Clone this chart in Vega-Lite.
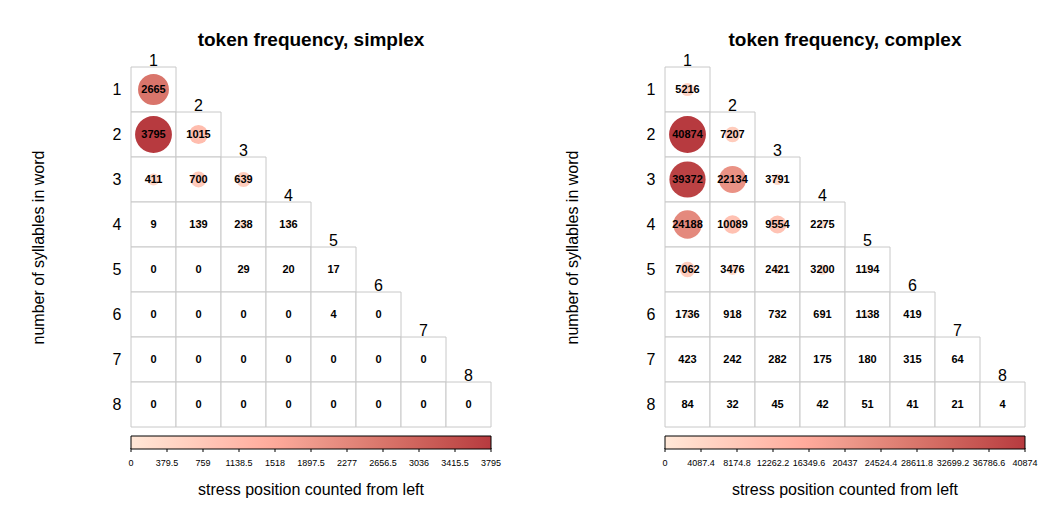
{
  "$schema": "https://vega.github.io/schema/vega-lite/v6.json",
  "padding": {"left": 30, "top": 31, "right": 10, "bottom": 5},
  "config": {
    "font": "Liberation Sans",
    "view": {"stroke": null},
    "axisY": {"labelColor": "black", "titleColor": "black", "titleFontSize": 16, "titleFontWeight": "normal", "titlePadding": 66, "labelFontSize": 16, "labelPadding": 10, "ticks": false, "domain": false, "grid": false, "labelAngle": 0},
    "legend": {"labelColor": "black", "titleColor": "black"}
  },
  "datasets": {
    "simplex": [
      {"r": 1, "c": 1, "v": 2665},
      {"r": 2, "c": 1, "v": 3795}, {"r": 2, "c": 2, "v": 1015},
      {"r": 3, "c": 1, "v": 411}, {"r": 3, "c": 2, "v": 700}, {"r": 3, "c": 3, "v": 639},
      {"r": 4, "c": 1, "v": 9}, {"r": 4, "c": 2, "v": 139}, {"r": 4, "c": 3, "v": 238}, {"r": 4, "c": 4, "v": 136},
      {"r": 5, "c": 1, "v": 0}, {"r": 5, "c": 2, "v": 0}, {"r": 5, "c": 3, "v": 29}, {"r": 5, "c": 4, "v": 20}, {"r": 5, "c": 5, "v": 17},
      {"r": 6, "c": 1, "v": 0}, {"r": 6, "c": 2, "v": 0}, {"r": 6, "c": 3, "v": 0}, {"r": 6, "c": 4, "v": 0}, {"r": 6, "c": 5, "v": 4}, {"r": 6, "c": 6, "v": 0},
      {"r": 7, "c": 1, "v": 0}, {"r": 7, "c": 2, "v": 0}, {"r": 7, "c": 3, "v": 0}, {"r": 7, "c": 4, "v": 0}, {"r": 7, "c": 5, "v": 0}, {"r": 7, "c": 6, "v": 0}, {"r": 7, "c": 7, "v": 0},
      {"r": 8, "c": 1, "v": 0}, {"r": 8, "c": 2, "v": 0}, {"r": 8, "c": 3, "v": 0}, {"r": 8, "c": 4, "v": 0}, {"r": 8, "c": 5, "v": 0}, {"r": 8, "c": 6, "v": 0}, {"r": 8, "c": 7, "v": 0}, {"r": 8, "c": 8, "v": 0}
    ],
    "complex": [
      {"r": 1, "c": 1, "v": 5216},
      {"r": 2, "c": 1, "v": 40874}, {"r": 2, "c": 2, "v": 7207},
      {"r": 3, "c": 1, "v": 39372}, {"r": 3, "c": 2, "v": 22134}, {"r": 3, "c": 3, "v": 3791},
      {"r": 4, "c": 1, "v": 24188}, {"r": 4, "c": 2, "v": 10089}, {"r": 4, "c": 3, "v": 9554}, {"r": 4, "c": 4, "v": 2275},
      {"r": 5, "c": 1, "v": 7062}, {"r": 5, "c": 2, "v": 3476}, {"r": 5, "c": 3, "v": 2421}, {"r": 5, "c": 4, "v": 3200}, {"r": 5, "c": 5, "v": 1194},
      {"r": 6, "c": 1, "v": 1736}, {"r": 6, "c": 2, "v": 918}, {"r": 6, "c": 3, "v": 732}, {"r": 6, "c": 4, "v": 691}, {"r": 6, "c": 5, "v": 1138}, {"r": 6, "c": 6, "v": 419},
      {"r": 7, "c": 1, "v": 423}, {"r": 7, "c": 2, "v": 242}, {"r": 7, "c": 3, "v": 282}, {"r": 7, "c": 4, "v": 175}, {"r": 7, "c": 5, "v": 180}, {"r": 7, "c": 6, "v": 315}, {"r": 7, "c": 7, "v": 64},
      {"r": 8, "c": 1, "v": 84}, {"r": 8, "c": 2, "v": 32}, {"r": 8, "c": 3, "v": 45}, {"r": 8, "c": 4, "v": 42}, {"r": 8, "c": 5, "v": 51}, {"r": 8, "c": 6, "v": 41}, {"r": 8, "c": 7, "v": 21}, {"r": 8, "c": 8, "v": 4}
    ],
    "simplexTicks": [
      {"t": 0}, {"t": 379.5}, {"t": 759}, {"t": 1138.5}, {"t": 1518}, {"t": 1897.5}, {"t": 2277}, {"t": 2656.5}, {"t": 3036}, {"t": 3415.5}, {"t": 3795}
    ],
    "complexTicks": [
      {"t": 0}, {"t": 4087.4}, {"t": 8174.8}, {"t": 12262.2}, {"t": 16349.6}, {"t": 20437}, {"t": 24524.4}, {"t": 28611.8}, {"t": 32699.2}, {"t": 36786.6}, {"t": 40874}
    ]
  },
  "spacing": 62,
  "hconcat": [
    {
      "width": 360,
      "height": 360,
      "title": {"text": "token frequency, simplex", "fontSize": 19, "fontWeight": "bold", "frame": "group", "offset": 3, "color": "black"},
      "resolve": {"scale": {"x": "independent"}},
      "layer": [
        {
          "data": {"name": "simplex"},
          "encoding": {
            "x": {"field": "c", "type": "ordinal", "axis": null, "scale": {"domain": [1, 2, 3, 4, 5, 6, 7, 8], "paddingInner": 0, "paddingOuter": 0}},
            "y": {"field": "r", "type": "ordinal", "title": "number of syllables in word", "scale": {"domain": [1, 2, 3, 4, 5, 6, 7, 8], "paddingInner": 0, "paddingOuter": 0}}
          },
          "layer": [
            {"mark": {"type": "rect", "fill": "white", "stroke": "#c8c8c8", "strokeWidth": 1}},
            {"mark": {"type": "circle", "opacity": 1},
              "encoding": {
                "size": {"field": "v", "type": "quantitative", "scale": {"domain": [0, 3795], "range": [0, 1360]}, "legend": null},
                "color": {"field": "v", "type": "quantitative",
                  "scale": {"domain": [0, 1897.5, 3795], "range": ["#ffffff", "#ee9a8c", "#b73a3f"]},
                  "legend": {"orient": "bottom", "direction": "horizontal", "gradientLength": 360, "gradientThickness": 13, "gradientStrokeColor": "black", "gradientStrokeWidth": 1,
                    "values": [0, 3795], "labelExpr": "''", "labelFontSize": 1, "labelOffset": 0, "offset": 9,
                    "title": "stress position counted from left", "titleLimit": 500, "titleOrient": "bottom", "titleFontSize": 16, "titleFontWeight": "normal", "titleAnchor": "middle", "titlePadding": 32}}
              }},
            {"mark": {"type": "text", "fontSize": 11, "fontWeight": "bold", "color": "black"},
              "encoding": {"text": {"field": "v", "type": "quantitative"}}},
            {"transform": [{"filter": "datum.r == datum.c"}],
              "mark": {"type": "text", "fontSize": 16, "baseline": "alphabetic", "dy": -1, "color": "black"},
              "encoding": {"y": {"field": "r", "type": "ordinal", "bandPosition": 0}, "text": {"field": "c", "type": "ordinal"}}}
          ]
        },
        {
          "data": {"name": "simplexTicks"},
          "encoding": {
            "x": {"field": "t", "type": "quantitative", "axis": null, "scale": {"domain": [0, 3795], "nice": false}},
            "y": {"datum": 8, "type": "ordinal", "title": "number of syllables in word", "scale": {"domain": [1, 2, 3, 4, 5, 6, 7, 8], "paddingInner": 0, "paddingOuter": 0}}
          },
          "layer": [
            {"mark": {"type": "tick", "orient": "vertical", "size": 4, "thickness": 1, "yOffset": 45.5, "color": "black", "opacity": 1}},
            {"mark": {"type": "text", "fontSize": 9, "yOffset": 58, "baseline": "middle", "align": "center", "color": "black"},
              "encoding": {"text": {"field": "t", "type": "nominal"}}}
          ]
        }
      ]
    },
    {
      "width": 360,
      "height": 360,
      "title": {"text": "token frequency, complex", "fontSize": 19, "fontWeight": "bold", "frame": "group", "offset": 3, "color": "black"},
      "resolve": {"scale": {"x": "independent"}},
      "layer": [
        {
          "data": {"name": "complex"},
          "encoding": {
            "x": {"field": "c", "type": "ordinal", "axis": null, "scale": {"domain": [1, 2, 3, 4, 5, 6, 7, 8], "paddingInner": 0, "paddingOuter": 0}},
            "y": {"field": "r", "type": "ordinal", "title": "number of syllables in word", "scale": {"domain": [1, 2, 3, 4, 5, 6, 7, 8], "paddingInner": 0, "paddingOuter": 0}}
          },
          "layer": [
            {"mark": {"type": "rect", "fill": "white", "stroke": "#c8c8c8", "strokeWidth": 1}},
            {"mark": {"type": "circle", "opacity": 1},
              "encoding": {
                "size": {"field": "v", "type": "quantitative", "scale": {"domain": [0, 40874], "range": [0, 1360]}, "legend": null},
                "color": {"field": "v", "type": "quantitative",
                  "scale": {"domain": [0, 20437, 40874], "range": ["#ffffff", "#ee9a8c", "#b73a3f"]},
                  "legend": {"orient": "bottom", "direction": "horizontal", "gradientLength": 360, "gradientThickness": 13, "gradientStrokeColor": "black", "gradientStrokeWidth": 1,
                    "values": [0, 40874], "labelExpr": "''", "labelFontSize": 1, "labelOffset": 0, "offset": 9,
                    "title": "stress position counted from left", "titleLimit": 500, "titleOrient": "bottom", "titleFontSize": 16, "titleFontWeight": "normal", "titleAnchor": "middle", "titlePadding": 32}}
              }},
            {"mark": {"type": "text", "fontSize": 11, "fontWeight": "bold", "color": "black"},
              "encoding": {"text": {"field": "v", "type": "quantitative"}}},
            {"transform": [{"filter": "datum.r == datum.c"}],
              "mark": {"type": "text", "fontSize": 16, "baseline": "alphabetic", "dy": -1, "color": "black"},
              "encoding": {"y": {"field": "r", "type": "ordinal", "bandPosition": 0}, "text": {"field": "c", "type": "ordinal"}}}
          ]
        },
        {
          "data": {"name": "complexTicks"},
          "encoding": {
            "x": {"field": "t", "type": "quantitative", "axis": null, "scale": {"domain": [0, 40874], "nice": false}},
            "y": {"datum": 8, "type": "ordinal", "title": "number of syllables in word", "scale": {"domain": [1, 2, 3, 4, 5, 6, 7, 8], "paddingInner": 0, "paddingOuter": 0}}
          },
          "layer": [
            {"mark": {"type": "tick", "orient": "vertical", "size": 4, "thickness": 1, "yOffset": 45.5, "color": "black", "opacity": 1}},
            {"mark": {"type": "text", "fontSize": 9, "yOffset": 58, "baseline": "middle", "align": "center", "color": "black"},
              "encoding": {"text": {"field": "t", "type": "nominal"}}}
          ]
        }
      ]
    }
  ],
  "resolve": {"scale": {"color": "independent", "size": "independent", "x": "independent", "y": "independent"}, "legend": {"color": "independent"}}
}
